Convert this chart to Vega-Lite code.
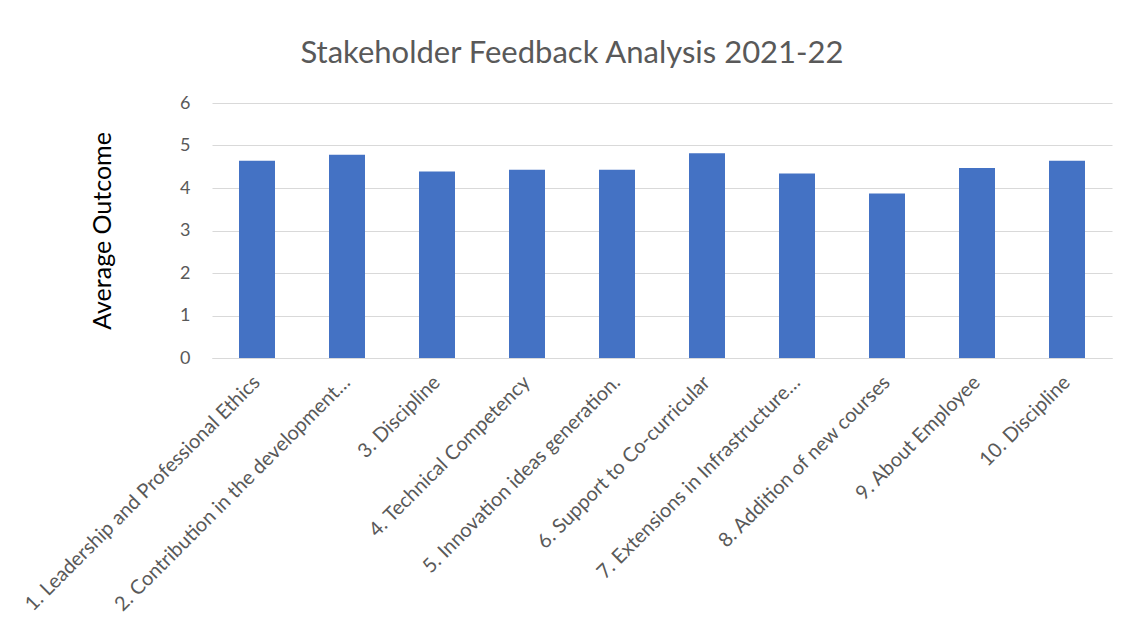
{
  "$schema": "https://vega.github.io/schema/vega-lite/v6.json",
  "width": 900,
  "height": 255,
  "autosize": {"type": "none"},
  "padding": {"left": 212, "top": 103, "right": 11, "bottom": 276},
  "background": "white",
  "title": {
    "text": "Stakeholder Feedback Analysis 2021-22",
    "font": "Lato",
    "fontSize": 31,
    "fontWeight": "normal",
    "color": "#595959",
    "anchor": "middle",
    "frame": "group",
    "dx": -90,
    "offset": 24
  },
  "data": {
    "values": [
      {"item": "1. Leadership and Professional Ethics", "outcome": 4.64},
      {"item": "2. Contribution in the development…", "outcome": 4.78},
      {"item": "3. Discipline", "outcome": 4.39},
      {"item": "4. Technical Competency", "outcome": 4.43},
      {"item": "5. Innovation ideas generation.", "outcome": 4.43},
      {"item": "6. Support to Co-curricular", "outcome": 4.82},
      {"item": "7. Extensions in Infrastructure…", "outcome": 4.34},
      {"item": "8. Addition of new courses", "outcome": 3.87},
      {"item": "9. About Employee", "outcome": 4.47},
      {"item": "10. Discipline", "outcome": 4.64}
    ]
  },
  "mark": {"type": "bar", "color": "#4472C4"},
  "encoding": {
    "x": {
      "field": "item",
      "type": "nominal",
      "sort": null,
      "scale": {"paddingInner": 0.6, "paddingOuter": 0.3},
      "axis": {
        "title": null,
        "labelAngle": -45,
        "labelAlign": "right",
        "labelBaseline": "middle",
        "labelPadding": 21,
        "labelFont": "Lato",
        "labelFontSize": 20,
        "labelColor": "#595959",
        "labelLimit": 0,
        "ticks": false,
        "domainColor": "#D9D9D9",
        "domainWidth": 1
      }
    },
    "y": {
      "field": "outcome",
      "type": "quantitative",
      "scale": {"domain": [0, 6]},
      "axis": {
        "title": "Average Outcome",
        "titleFont": "Lato",
        "titleFontSize": 25,
        "titleFontWeight": "normal",
        "titleColor": "#000000",
        "titlePadding": 64,
        "values": [0, 1, 2, 3, 4, 5, 6],
        "labelFont": "Lato",
        "labelFontSize": 18,
        "labelColor": "#595959",
        "labelPadding": 22,
        "ticks": false,
        "domain": false,
        "gridColor": "#D9D9D9",
        "gridWidth": 1
      }
    }
  },
  "config": {"view": {"stroke": null}}
}
